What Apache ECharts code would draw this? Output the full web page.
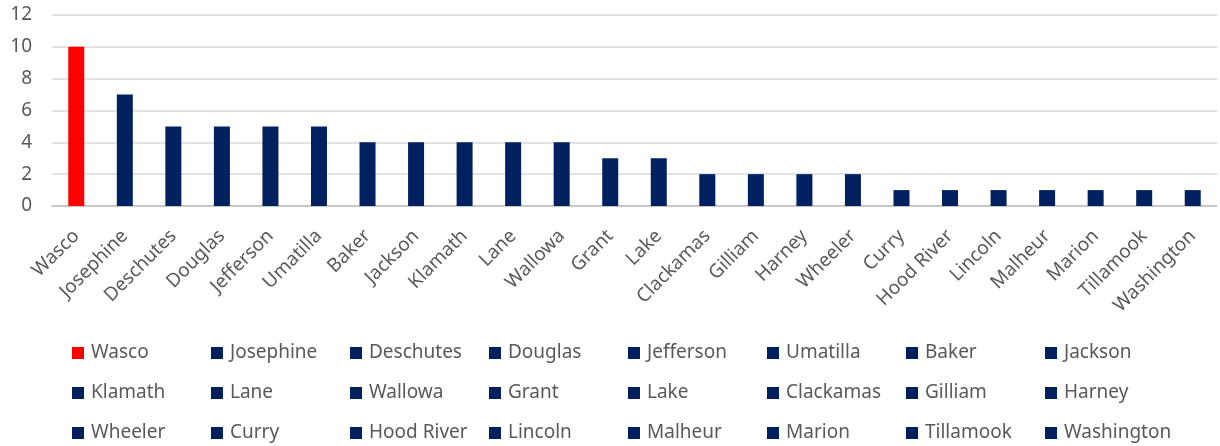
<!DOCTYPE html>
<html>
<head>
<meta charset="utf-8">
<script src="https://cdn.jsdelivr.net/npm/echarts@6/dist/echarts.min.js"></script>
<style>
  html, body { margin: 0; padding: 0; background: #fff; }
  #chart { width: 1220px; height: 446px; }
</style>
</head>
<body>
<div id="chart"></div>
<script>
const counties = ['Wasco', 'Josephine', 'Deschutes', 'Douglas', 'Jefferson', 'Umatilla', 'Baker', 'Jackson',
  'Klamath', 'Lane', 'Wallowa', 'Grant', 'Lake', 'Clackamas', 'Gilliam', 'Harney',
  'Wheeler', 'Curry', 'Hood River', 'Lincoln', 'Malheur', 'Marion', 'Tillamook', 'Washington'];
const counts = [10, 7, 5, 5, 5, 5, 4, 4, 4, 4, 4, 3, 3, 2, 2, 2, 2, 1, 1, 1, 1, 1, 1, 1];
const highlighted = 'Wasco';

const FONT = 'Noto Sans';
const TEXT = '#595959';

const chart = echarts.init(document.getElementById('chart'), null, { renderer: 'canvas' });

// one series per county so every county gets its own legend entry
const series = counties.map((name, i) => ({
  name: name,
  type: 'bar',
  stack: 'all',
  barWidth: 16,
  itemStyle: { color: name === highlighted ? '#ff0000' : '#002060' },
  data: counts.map((v, j) => (j === i ? v : '-'))
}));

// legend laid out as an 8 x 3 grid, one legend component per item
const legends = counties.map((name, i) => ({
  data: [name],
  left: 72 + (i % 8) * 139,
  top: 342 + Math.floor(i / 8) * 40,
  padding: 0,
  icon: 'rect',
  itemWidth: 12,
  itemHeight: 12,
  selectedMode: false,
  textStyle: { fontFamily: FONT, fontSize: 19, color: TEXT, lineHeight: 22, padding: [0, 0, 0, 2] }
}));

const option = {
  animation: false,
  grid: { left: 52, right: 3, top: 15, height: 191, containLabel: false },
  xAxis: {
    type: 'category',
    data: counties,
    axisLine: { lineStyle: { color: '#bfbfbf', width: 1.5 } },
    axisTick: { show: false },
    axisLabel: {
      interval: 0,
      rotate: 45,
      margin: 27,
      fontFamily: FONT,
      fontSize: 19,
      color: TEXT
    }
  },
  yAxis: {
    type: 'value',
    min: 0,
    max: 12,
    interval: 2,
    axisLine: { show: false },
    axisTick: { show: false },
    splitLine: { lineStyle: { color: '#d9d9d9', width: 1.5 } },
    axisLabel: { margin: 20, fontFamily: FONT, fontSize: 19, color: TEXT }
  },
  legend: legends,
  series: series
};

chart.setOption(option);
</script>
</body>
</html>
